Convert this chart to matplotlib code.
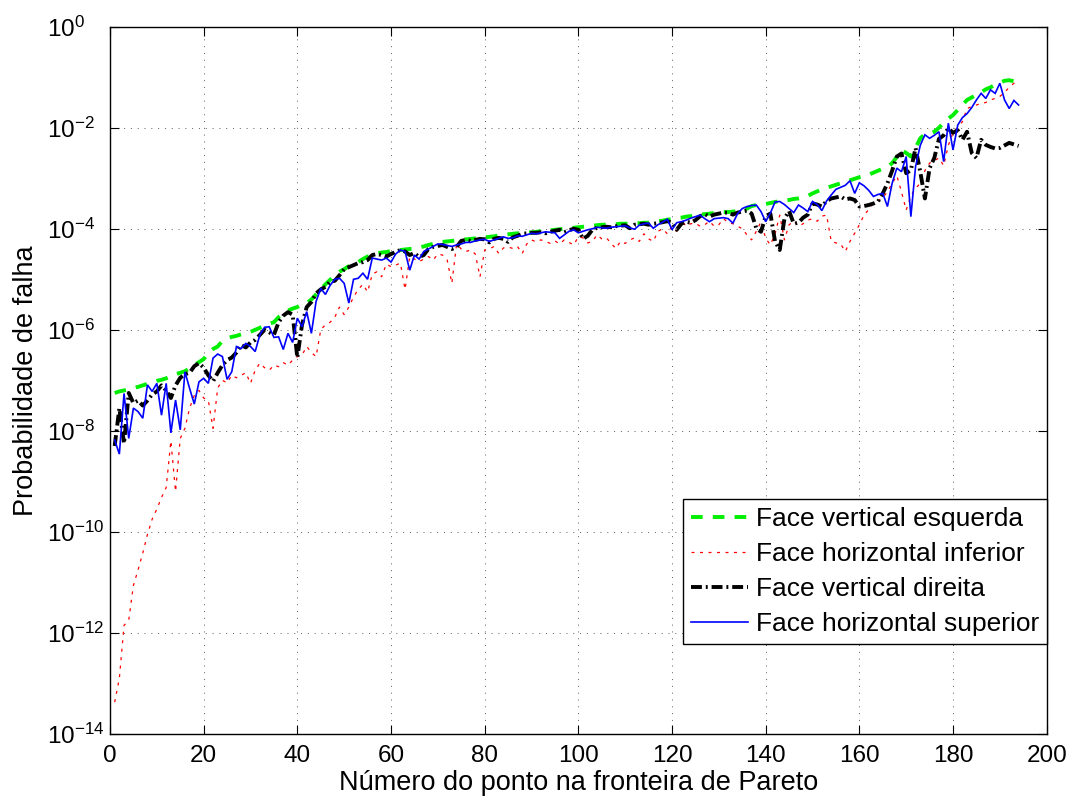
import numpy as np
import matplotlib
matplotlib.use("Agg")
import matplotlib.pyplot as plt
from matplotlib.ticker import FixedLocator, NullLocator, FuncFormatter

plt.rcParams['font.family'] = ['Liberation Sans', 'DejaVu Sans']
plt.rcParams['mathtext.fontset'] = 'custom'
plt.rcParams['mathtext.rm'] = 'Liberation Sans'
plt.rcParams['mathtext.it'] = 'Liberation Sans:italic'
plt.rcParams['mathtext.bf'] = 'Liberation Sans:bold'

# Point index along the Pareto front
ponto = np.arange(1, 195)

# log10 of the failure probability for each face
log_vert_esquerda = [
    -7.25, -7.22, -7.20, -7.18, -7.15, -7.13, -7.10, -7.07, -7.04, -7.01,
    -6.99, -6.96, -6.92, -6.88, -6.85, -6.82, -6.76, -6.70, -6.64, -6.58,
    -6.45, -6.38, -6.33, -6.22, -6.17, -6.14, -6.12, -6.09, -6.06, -6.04,
    -6.00, -5.96, -5.92, -5.88, -5.85, -5.75, -5.68, -5.62, -5.58, -5.55,
    -5.50, -5.47, -5.40, -5.30, -5.20, -5.10, -5.01, -4.92, -4.85, -4.80,
    -4.74, -4.70, -4.66, -4.60, -4.55, -4.52, -4.49, -4.47, -4.46, -4.44,
    -4.43, -4.42, -4.41, -4.40, -4.39, -4.37, -4.35, -4.32, -4.30, -4.28,
    -4.26, -4.25, -4.24, -4.23, -4.22, -4.21, -4.20, -4.19, -4.18, -4.17,
    -4.16, -4.15, -4.13, -4.12, -4.11, -4.10, -4.09, -4.09, -4.08, -4.07,
    -4.06, -4.05, -4.04, -4.03, -4.02, -4.01, -4.00, -3.99, -3.98, -3.97,
    -3.96, -3.95, -3.94, -3.93, -3.92, -3.92, -3.91, -3.91, -3.90, -3.90,
    -3.90, -3.89, -3.89, -3.88, -3.88, -3.86, -3.85, -3.84, -3.82, -3.81,
    -3.79, -3.78, -3.76, -3.75, -3.73, -3.72, -3.71, -3.70, -3.69, -3.68,
    -3.67, -3.67, -3.66, -3.65, -3.64, -3.60, -3.55, -3.53, -3.52, -3.51,
    -3.49, -3.47, -3.45, -3.44, -3.43, -3.41, -3.40, -3.38, -3.35, -3.30,
    -3.26, -3.22, -3.19, -3.16, -3.13, -3.10, -3.07, -3.04, -3.01, -2.98,
    -2.96, -2.93, -2.89, -2.85, -2.81, -2.78, -2.70, -2.58, -2.44, -2.50,
    -2.57, -2.40, -2.21, -2.13, -2.12, -2.08, -2.00, -1.90, -1.82, -1.75,
    -1.65, -1.55, -1.45, -1.40, -1.35, -1.30, -1.24, -1.20, -1.15, -1.11,
    -1.07, -1.06, -1.08, -1.10,
]

log_horiz_inferior = [
    -13.37, -12.90, -11.85, -11.75, -11.06, -10.75, -10.42, -10.05, -9.75, -9.55,
    -9.32, -9.12, -8.20, -9.20, -8.15, -7.95, -7.55, -7.30, -7.20, -7.35,
    -7.40, -7.95, -7.15, -7.00, -7.05, -6.90, -6.95, -6.90, -6.85, -7.06,
    -6.80, -6.66, -6.75, -6.80, -6.70, -6.73, -6.65, -6.70, -6.60, -6.53,
    -6.50, -6.33, -6.45, -6.53, -6.00, -5.90, -5.85, -5.75, -5.55, -5.70,
    -5.55, -5.35, -5.20, -5.10, -5.25, -4.90, -4.85, -4.95, -4.70, -4.75,
    -4.72, -4.68, -5.20, -4.55, -4.60, -4.65, -4.60, -4.55, -4.62, -4.50,
    -4.52, -4.62, -5.08, -4.30, -4.40, -4.45, -4.42, -4.50, -4.95, -4.42,
    -4.40, -4.35, -4.49, -4.38, -4.36, -4.39, -4.35, -4.49, -4.30, -4.22,
    -4.26, -4.22, -4.25, -4.29, -4.24, -4.30, -4.22, -4.27, -4.32, -4.16,
    -4.18, -4.28, -4.25, -4.12, -4.20, -4.18, -4.29, -4.39, -4.25, -4.29,
    -4.22, -4.18, -4.25, -4.10, -4.20, -4.25, -4.05, -4.00, -4.10, -3.95,
    -4.05, -3.83, -3.95, -3.90, -3.89, -3.95, -3.92, -3.85, -3.95, -3.92,
    -3.80, -3.88, -3.90, -3.95, -4.00, -4.12, -4.22, -4.05, -3.86, -4.19,
    -4.32, -4.10, -3.73, -4.22, -3.92, -3.85, -3.95, -3.90, -3.83, -3.80,
    -3.85, -3.75, -3.73, -4.25, -4.28, -4.30, -4.45, -4.25, -4.09, -3.92,
    -3.73, -3.62, -3.50, -3.45, -3.38, -3.27, -3.10, -2.95, -3.27, -3.63,
    -3.35, -3.20, -3.10, -2.85, -2.70, -2.65, -2.60, -2.75, -2.35, -2.10,
    -2.00, -1.88, -1.62, -1.58, -1.55, -1.52, -1.50, -1.45, -1.42, -1.38,
    -1.30, -1.20, -1.12, -1.08,
]

log_vert_direita = [
    -8.30, -7.55, -8.25, -7.25, -7.45, -7.40, -7.50, -7.40, -7.28, -7.22,
    -7.10, -7.20, -7.35, -7.10, -6.95, -6.88, -6.85, -6.72, -6.66, -6.75,
    -6.90, -7.02, -6.85, -6.70, -6.60, -6.55, -6.45, -6.30, -6.35, -6.25,
    -6.20, -6.10, -6.00, -6.05, -6.10, -5.85, -5.72, -5.65, -5.70, -6.55,
    -5.90, -5.55, -5.45, -5.28, -5.20, -5.15, -5.05, -5.03, -4.92, -4.80,
    -4.76, -4.72, -4.68, -4.66, -4.62, -4.52, -4.50, -4.52, -4.55, -4.50,
    -4.46, -4.42, -4.45, -4.52, -4.48, -4.56, -4.52, -4.40, -4.36, -4.34,
    -4.32, -4.36, -4.40, -4.36, -4.24, -4.22, -4.24, -4.22, -4.20, -4.21,
    -4.27, -4.20, -4.18, -4.20, -4.26, -4.17, -4.14, -4.10, -4.09, -4.08,
    -4.08, -4.07, -4.09, -4.06, -4.04, -4.02, -4.07, -4.03, -4.00, -4.02,
    -4.20, -4.14, -4.02, -3.98, -3.97, -3.96, -3.97, -3.95, -3.94, -3.93,
    -3.99, -3.92, -3.91, -3.90, -3.92, -3.90, -3.89, -3.87, -3.85, -3.88,
    -4.02, -3.90, -3.86, -3.88, -3.83, -3.75, -3.71, -3.76, -3.72, -3.70,
    -3.68, -3.68, -3.72, -3.68, -3.66, -3.64, -3.70, -3.99, -4.06, -3.75,
    -3.70, -4.25, -4.42, -3.80, -3.65, -3.90, -3.88, -3.78, -3.72, -3.50,
    -3.52, -3.56, -3.45, -3.40, -3.38, -3.36, -3.42, -3.40, -3.43, -3.56,
    -3.55, -3.53, -3.50, -3.46, -3.30, -3.10, -2.85, -2.57, -2.51, -2.90,
    -2.84, -2.40, -2.87, -3.40, -2.80, -2.60, -2.22, -2.15, -2.01, -2.10,
    -2.05, -2.24, -2.08, -2.50, -2.60, -2.24, -2.34, -2.38, -2.41, -2.40,
    -2.35, -2.30, -2.33, -2.36,
]

log_horiz_superior = [
    -8.18, -8.46, -7.26, -8.15, -7.55, -7.62, -7.75, -7.09, -7.22, -7.06,
    -7.69, -7.06, -8.04, -7.39, -7.98, -6.83, -7.16, -7.47, -7.03, -6.96,
    -7.06, -6.56, -6.48, -6.53, -6.98, -6.83, -6.33, -6.37, -6.27, -6.33,
    -6.43, -6.10, -5.95, -5.94, -6.15, -6.14, -6.39, -6.07, -6.25, -5.77,
    -5.94, -5.64, -6.07, -5.44, -5.18, -5.30, -5.12, -5.00, -4.98, -5.08,
    -5.47, -5.00, -4.98, -4.88, -5.00, -4.58, -4.60, -4.62, -4.58, -4.66,
    -4.50, -4.42, -4.45, -4.82, -4.52, -4.60, -4.45, -4.40, -4.35, -4.30,
    -4.31, -4.33, -4.35, -4.32, -4.30, -4.27, -4.27, -4.24, -4.22, -4.21,
    -4.25, -4.22, -4.19, -4.16, -4.19, -4.18, -4.14, -4.15, -4.12, -4.09,
    -4.10, -4.08, -4.06, -4.07, -4.08, -4.19, -4.12, -4.05, -4.02, -4.08,
    -4.05, -4.02, -4.00, -3.97, -3.98, -3.99, -3.97, -3.96, -3.95, -3.94,
    -3.98, -4.01, -3.93, -3.90, -3.89, -3.99, -3.92, -3.87, -3.81, -4.02,
    -3.88, -3.86, -3.83, -3.79, -3.76, -3.73, -3.80, -3.86, -3.80, -3.79,
    -3.78, -3.80, -3.89, -3.70, -3.60, -3.56, -3.54, -3.53, -3.66, -3.86,
    -3.69, -3.47, -3.46, -3.52, -3.60, -3.68, -3.53, -3.59, -3.66, -3.46,
    -3.52, -3.64, -3.45, -3.33, -3.22, -3.18, -3.14, -3.05, -3.30, -3.09,
    -3.15, -3.24, -3.36, -3.32, -3.30, -3.56, -3.10, -2.80, -2.87, -2.57,
    -3.76, -2.77, -2.35, -2.14, -2.21, -2.15, -2.08, -2.67, -1.91, -2.44,
    -1.95, -1.80, -1.72, -1.60, -1.45, -1.32, -1.42, -1.25, -1.32, -1.12,
    -1.45, -1.62, -1.46, -1.55,
]

legend_labels = [
    'Face vertical esquerda',
    'Face horizontal inferior',
    'Face vertical direita',
    'Face horizontal superior',
]
x_ticks = list(range(0, 201, 20))
y_tick_exponents = list(range(-14, 1, 2))

fig = plt.figure(figsize=(10.71, 7.99), dpi=100)
ax = fig.add_axes([0.1027, 0.0814, 0.8746, 0.8852])

series = [
    (log_vert_esquerda, dict(color='#00ee00', linewidth=2.8, dashes=(3.0, 2.6))),
    (log_horiz_inferior, dict(color='#ff0000', linewidth=0.9, dashes=(2.4, 4.4))),
    (log_vert_direita, dict(color='#000000', linewidth=2.8, dashes=(2.8, 1.0, 0.5, 1.0))),
    (log_horiz_superior, dict(color='#0000ff', linewidth=1.2, linestyle='-')),
]
for (vals, style), label in zip(series, legend_labels):
    ax.plot(ponto, 10.0 ** np.asarray(vals), label=label,
            solid_joinstyle='miter', dash_capstyle='butt', **style)

ax.set_yscale('log')
ax.set_xlim(0, 200)
ax.set_ylim(1e-14, 1e0)
ax.xaxis.set_major_locator(FixedLocator(x_ticks))
ax.yaxis.set_major_locator(FixedLocator([10.0 ** e for e in y_tick_exponents]))
ax.yaxis.set_minor_locator(NullLocator())
ax.xaxis.set_minor_locator(NullLocator())
ax.yaxis.set_major_formatter(FuncFormatter(
    lambda v, pos: r'$10^{%d}$' % int(round(np.log10(v)))))

ax.tick_params(axis='both', which='major', direction='in', length=6.5, width=0.8,
               top=True, right=True, labelsize=17.5, colors='k')
ax.tick_params(axis='x', pad=8)
ax.tick_params(axis='y', pad=45)
for lbl in ax.get_yticklabels():
    lbl.set_horizontalalignment('left')

for sp in ax.spines.values():
    sp.set_linewidth(1.0)
    sp.set_color('k')

ax.grid(True, which='major', color='#333333', linewidth=0.7,
        linestyle=(0, (1, 6)), alpha=0.8)

ax.set_xlabel('Número do ponto na fronteira de Pareto', fontsize=19.5, labelpad=2)
ax.set_ylabel('Probabilidade de falha', fontsize=19.5, labelpad=6)

leg = ax.legend(loc='lower right', bbox_to_anchor=(1.0, 0.127), borderaxespad=0,
                fontsize=19, frameon=True, fancybox=False, framealpha=1,
                edgecolor='k', handlelength=2.15, handletextpad=0.3,
                labelspacing=0.42, borderpad=0.3)
leg.get_frame().set_linewidth(1.0)

fig.savefig('out.png', dpi=100)
